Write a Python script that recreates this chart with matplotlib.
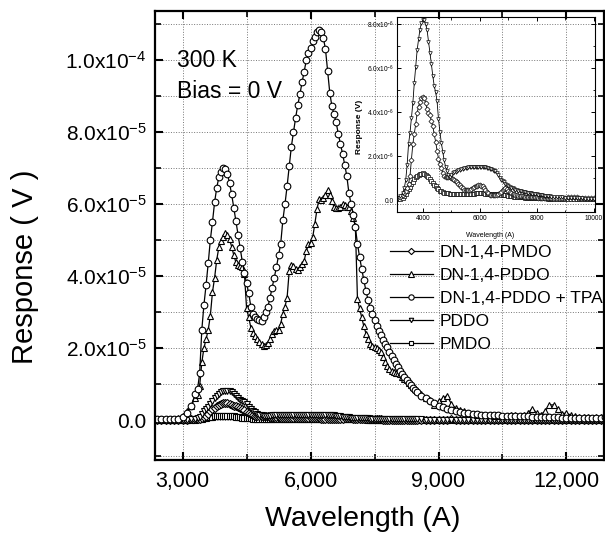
import numpy as np
import matplotlib
matplotlib.use("Agg")
import matplotlib.pyplot as plt
from matplotlib.ticker import MultipleLocator

plt.rcParams['font.family'] = ['Liberation Sans', 'DejaVu Sans']
plt.rcParams['mathtext.default'] = 'regular'

# wavelength grid of the spectra (A)
wl = np.concatenate([np.arange(2400, 3300, 100), np.arange(3300, 8500, 50), np.arange(8500, 13000, 100)])

# big responses, units of 1e-5 V
tpa = [0.03, 0.02, 0.03, 0.02, 0.03, 0.04, 0.08, 0.2, 0.4,
       0.72, 0.85, 1.3, 2.5, 3.2, 3.75, 4.35, 5.0, 5.5, 6.05,
       6.45, 6.75, 6.9, 7.0, 6.98, 6.85, 6.58, 6.27, 5.9, 5.52,
       5.15, 4.77, 4.4, 4.08, 3.8, 3.52, 3.15, 2.95, 2.85, 2.8,
       2.77, 2.76, 2.85, 3.0, 3.15, 3.4, 3.68, 3.95, 4.25, 4.58,
       4.9, 5.55, 6.0, 6.5, 7.05, 7.6, 8.0, 8.4, 8.75, 9.05,
       9.38, 9.68, 10.0, 10.2, 10.35, 10.52, 10.65, 10.77, 10.83, 10.78,
       10.62, 10.3, 9.7, 9.1, 8.72, 8.5, 8.27, 7.95, 7.68, 7.4,
       7.1, 6.78, 6.3, 6.0, 5.7, 5.35, 4.9, 4.52, 4.2, 3.88,
       3.58, 3.33, 3.12, 2.95, 2.78, 2.62, 2.48, 2.35, 2.23, 2.12,
       2.02, 1.9, 1.78, 1.68, 1.57, 1.47, 1.37, 1.28, 1.2, 1.12,
       1.04, 0.97, 0.9, 0.84,
       0.78, 0.68, 0.6, 0.52, 0.46, 0.4, 0.35, 0.31, 0.27, 0.24,
       0.22, 0.2, 0.19, 0.17, 0.16, 0.15, 0.14, 0.14, 0.13, 0.13,
       0.12, 0.12, 0.11, 0.11, 0.1, 0.1, 0.1, 0.09, 0.09, 0.09,
       0.08, 0.08, 0.08, 0.08, 0.07, 0.07, 0.07, 0.07, 0.06, 0.06,
       0.06, 0.06, 0.06, 0.07, 0.08]

dn_pddo = [0.02, 0.03, 0.02, 0.03, 0.03, 0.05, 0.12, 0.24, 0.4,
           0.62, 0.7, 0.95, 1.6, 2.0, 2.25, 2.5, 2.9, 3.55, 3.95,
           4.45, 4.8, 4.98, 5.08, 5.2, 5.15, 5.02, 4.82, 4.58, 4.38,
           4.3, 4.28, 4.25, 4.05, 3.1, 2.85, 2.57, 2.42, 2.33, 2.25,
           2.18, 2.1, 2.06, 2.08, 2.15, 2.25, 2.38, 2.48, 2.5, 2.5,
           2.68, 2.95, 3.15, 3.4, 4.15, 4.3, 4.28, 4.2, 4.18, 4.26,
           4.33, 4.42, 4.7, 4.88, 4.93, 5.08, 5.45, 5.85, 6.15, 6.12,
           6.18, 6.25, 6.38, 6.25, 6.08, 5.92, 5.88, 5.88, 5.92, 6.0,
           5.98, 5.93, 5.92, 5.8, 5.6, 5.4, 3.35, 3.1, 2.85, 2.6,
           2.4, 2.25, 2.12, 2.05, 2.04, 2.0, 1.95, 1.88, 1.75, 1.6,
           1.5, 1.42, 1.36, 1.34, 1.32, 1.3, 1.28, 1.2, 1.14, 1.1,
           1.03, 0.98, 0.93, 0.87,
           0.8, 0.72, 0.62, 0.55, 0.43, 0.52, 0.6, 0.68, 0.45, 0.33,
           0.28, 0.24, 0.2, 0.16, 0.14, 0.13, 0.14, 0.13, 0.12, 0.11,
           0.11, 0.12, 0.14, 0.13, 0.12, 0.14, 0.2, 0.32, 0.2, 0.15,
           0.25, 0.42, 0.42, 0.3, 0.18, 0.19, 0.14, 0.1, 0.09, 0.08,
           0.08, 0.07, 0.08, 0.09, 0.09]

# small responses, units of 1e-6 V
pddo = [0.05, 0.04, 0.05, 0.04, 0.05, 0.06, 0.08, 0.1, 0.18,
        0.3, 0.55, 0.9, 1.6, 2.55, 3.05, 3.75, 4.4, 5.3, 6.05,
        6.8, 7.3, 7.75, 8.05, 8.18, 8.17, 8.0, 7.73, 7.2, 6.7,
        6.2, 5.65, 5.2, 4.9, 4.5, 3.7, 3.1, 2.6, 2.2, 1.8,
        1.52, 1.3, 1.15, 1.06, 1.15, 1.22, 1.26, 1.29, 1.32, 1.35,
        1.38, 1.4, 1.42, 1.44, 1.45, 1.46, 1.48, 1.49, 1.5, 1.51,
        1.52, 1.52, 1.52, 1.52, 1.52, 1.51, 1.5, 1.49, 1.48, 1.46,
        1.45, 1.43, 1.4, 1.37, 1.33, 1.3, 1.25, 1.12, 1.0, 0.92,
        0.86, 0.8, 0.74, 0.68, 0.63, 0.6, 0.56, 0.53, 0.5, 0.47,
        0.45, 0.43, 0.41, 0.4, 0.38, 0.37, 0.35, 0.34, 0.33, 0.31,
        0.3, 0.29, 0.28, 0.27, 0.26, 0.25, 0.23, 0.22, 0.21, 0.2,
        0.19, 0.18, 0.17, 0.17,
        0.16, 0.15, 0.14, 0.13, 0.12, 0.11, 0.1, 0.09, 0.08, 0.08,
        0.07, 0.07, 0.06, 0.06, 0.05, 0.05, 0.05, 0.04, 0.04, 0.04,
        0.04, 0.04, 0.03, 0.04, 0.03, 0.03, 0.04, 0.03, 0.03, 0.03,
        0.03, 0.04, 0.03, 0.03, 0.03, 0.03, 0.04, 0.03, 0.03, 0.03,
        0.03, 0.03, 0.04, 0.03, 0.03]

dn_pmdo = [0.05, 0.06, 0.05, 0.06, 0.05, 0.06, 0.07, 0.08, 0.15,
           0.25, 0.32, 0.42, 0.55, 0.75, 1.1, 1.8, 2.55, 3.0, 3.45,
           3.94, 4.25, 4.48, 4.62, 4.7, 4.62, 4.42, 4.12, 3.98, 3.85,
           3.6, 3.35, 3.0, 2.65, 2.25, 1.88, 1.62, 1.45, 1.25, 1.1,
           1.06, 1.06, 1.06, 1.05, 1.0, 0.96, 0.92, 0.86, 0.8, 0.73,
           0.67, 0.6, 0.53, 0.47, 0.44, 0.44, 0.45, 0.47, 0.52, 0.56,
           0.6, 0.63, 0.66, 0.68, 0.68, 0.66, 0.63, 0.55, 0.45, 0.37,
           0.3, 0.25, 0.23, 0.22, 0.22, 0.23, 0.25, 0.28, 0.33, 0.38,
           0.45, 0.5, 0.53, 0.48, 0.42, 0.38, 0.33, 0.29, 0.26, 0.23,
           0.22, 0.2, 0.19, 0.18, 0.17, 0.16, 0.15, 0.15, 0.14, 0.14,
           0.13, 0.13, 0.12, 0.12, 0.12, 0.11, 0.11, 0.1, 0.1, 0.1,
           0.1, 0.09, 0.09, 0.09,
           0.09, 0.08, 0.08, 0.09, 0.1, 0.11, 0.12, 0.14, 0.15, 0.13,
           0.11, 0.1, 0.09, 0.08, 0.08, 0.08, 0.07, 0.07, 0.06, 0.06,
           0.06, 0.05, 0.06, 0.05, 0.05, 0.06, 0.05, 0.05, 0.05, 0.05,
           0.05, 0.05, 0.06, 0.05, 0.05, 0.05, 0.05, 0.05, 0.05, 0.05,
           0.05, 0.05, 0.05, 0.05, 0.05]

pmdo = [0.0, 0.01, 0.0, 0.01, 0.0, 0.01, 0.02, 0.03, 0.06,
        0.1, 0.18, 0.28, 0.4, 0.5, 0.6, 0.72, 0.84, 0.95, 1.04,
        1.1, 1.15, 1.18, 1.2, 1.21, 1.2, 1.16, 1.1, 1.03, 0.95,
        0.87, 0.78, 0.7, 0.62, 0.54, 0.48, 0.43, 0.39, 0.36, 0.33,
        0.31, 0.3, 0.3, 0.29, 0.29, 0.28, 0.28, 0.28, 0.27, 0.27,
        0.27, 0.27, 0.27, 0.27, 0.27, 0.28, 0.28, 0.28, 0.29, 0.29,
        0.29, 0.3, 0.3, 0.3, 0.3, 0.3, 0.3, 0.3, 0.29, 0.29,
        0.29, 0.28, 0.28, 0.28, 0.27, 0.27, 0.27, 0.27, 0.26, 0.25,
        0.24, 0.23, 0.22, 0.21, 0.2, 0.19, 0.18, 0.17, 0.16, 0.15,
        0.15, 0.14, 0.13, 0.13, 0.12, 0.12, 0.11, 0.11, 0.1, 0.1,
        0.1, 0.09, 0.09, 0.09, 0.08, 0.08, 0.08, 0.08, 0.07, 0.07,
        0.07, 0.07, 0.06, 0.06,
        0.06, 0.06, 0.05, 0.05, 0.05, 0.05, 0.04, 0.04, 0.04, 0.04,
        0.04, 0.03, 0.03, 0.03, 0.03, 0.03, 0.03, 0.03, 0.03, 0.03,
        0.03, 0.03, 0.03, 0.03, 0.03, 0.03, 0.03, 0.03, 0.03, 0.03,
        0.03, 0.03, 0.03, 0.03, 0.03, 0.03, 0.03, 0.03, 0.03, 0.03,
        0.03, 0.03, 0.03, 0.03, 0.03]

labels = ["DN-1,4-PMDO", "DN-1,4-PDDO", "DN-1,4-PDDO + TPA", "PDDO", "PMDO"]

x_ticks = [3000, 6000, 9000, 12000]
x_ticklabels = ["3,000", "6,000", "9,000", "12,000"]
y_ticks = [0, 2e-5, 4e-5, 6e-5, 8e-5, 1e-4]
y_ticklabels = ["0.0", "$2.0x10^{-5}$", "$4.0x10^{-5}$", "$6.0x10^{-5}$", "$8.0x10^{-5}$", "$1.0x10^{-4}$"]

inset_x_ticks = [4000, 6000, 8000, 10000]
inset_y_ticks = [0, 2e-6, 4e-6, 6e-6, 8e-6]
inset_y_ticklabels = ["0.0", "$2.0x10^{-6}$", "$4.0x10^{-6}$", "$6.0x10^{-6}$", "$8.0x10^{-6}$"]

series = {
    "DN-1,4-PMDO": (np.array(dn_pmdo) * 1e-6, "D"),
    "DN-1,4-PDDO": (np.array(dn_pddo) * 1e-5, "^"),
    "DN-1,4-PDDO + TPA": (np.array(tpa) * 1e-5, "o"),
    "PDDO": (np.array(pddo) * 1e-6, "v"),
    "PMDO": (np.array(pmdo) * 1e-6, "s"),
}
draw_order = ["PMDO", "DN-1,4-PMDO", "PDDO", "DN-1,4-PDDO", "DN-1,4-PDDO + TPA"]

fig = plt.figure(figsize=(6.05, 5.33), dpi=100)
ax = fig.add_axes([0.256, 0.137, 0.742, 0.842])

handles = {}
for name in draw_order:
    y, m = series[name]
    ms = 4.8 if name in ("DN-1,4-PDDO", "DN-1,4-PDDO + TPA") else 4.0
    h, = ax.plot(wl, y, color="black", lw=0.9, marker=m, ms=ms,
                 mfc="white", mec="black", mew=0.8, label=name)
    handles[name] = h

ax.set_xlim(2350, 12875)
ax.set_ylim(-1.11e-5, 1.136e-4)
ax.set_xticks(x_ticks)
ax.set_xticklabels(x_ticklabels, fontsize=15.5)
ax.set_yticks(y_ticks)
ax.set_yticklabels(y_ticklabels, fontsize=15)
ax.xaxis.set_minor_locator(MultipleLocator(1500))
ax.yaxis.set_minor_locator(MultipleLocator(1e-5))
ax.tick_params(which="both", direction="in", top=True, right=True)
ax.tick_params(which="major", length=6, width=1.5)
ax.tick_params(which="minor", length=4, width=1.2)
ax.tick_params(axis="x", pad=8)
ax.tick_params(axis="y", pad=6)
for s in ax.spines.values():
    s.set_linewidth(1.6)
ax.grid(True, which="both", linestyle=":", color="#777777", linewidth=0.7)
ax.set_axisbelow(True)

ax.set_xlabel("Wavelength (A)", fontsize=20.5, va="center")
ax.xaxis.set_label_coords(0.463, -0.131)
ax.set_ylabel("Response ( V )", fontsize=21, va="center")
ax.yaxis.set_label_coords(-0.289, 0.43)

ax.text(0.05, 0.89, "300 K", transform=ax.transAxes, fontsize=16.5, va="center")
ax.text(0.05, 0.822, "Bias = 0 V", transform=ax.transAxes, fontsize=16.5, va="center")

ax.legend([handles[n] for n in labels], labels, loc="upper left",
          bbox_to_anchor=(0.523, 0.479), frameon=False, fontsize=12.5,
          numpoints=1, handlelength=2.5, handletextpad=0.4, labelspacing=0.45,
          borderpad=0, borderaxespad=0, markerscale=0.8)

# inset with the three weak samples
ax2 = fig.add_axes([0.656, 0.602, 0.327, 0.366])
ax2.set_facecolor("none")
for name in ["PMDO", "DN-1,4-PMDO", "PDDO"]:
    y, m = series[name]
    ax2.plot(wl, y, color="black", lw=0.6, marker=m, ms=2.6,
             mfc="white", mec="black", mew=0.5)
ax2.set_xlim(3090, 10035)
ax2.set_ylim(-0.55e-6, 8.32e-6)
ax2.set_xticks(inset_x_ticks)
ax2.set_xticklabels([str(t) for t in inset_x_ticks], fontsize=4.8)
ax2.set_yticks(inset_y_ticks)
ax2.set_yticklabels(inset_y_ticklabels, fontsize=4.8)
ax2.xaxis.set_minor_locator(MultipleLocator(1000))
ax2.yaxis.set_minor_locator(MultipleLocator(1e-6))
ax2.tick_params(which="both", direction="in", top=True, right=True, pad=2)
ax2.tick_params(which="major", length=3, width=0.7)
ax2.tick_params(which="minor", length=1.8, width=0.6)
for s in ax2.spines.values():
    s.set_linewidth(0.8)
ax2.set_xlabel("Wavelength (A)", fontsize=5, va="center")
ax2.xaxis.set_label_coords(0.47, -0.118)
ax2.set_ylabel("Response (V)", fontsize=6, fontweight="bold", va="center")
ax2.yaxis.set_label_coords(-0.187, 0.436)

fig.savefig("out.png", dpi=100)
